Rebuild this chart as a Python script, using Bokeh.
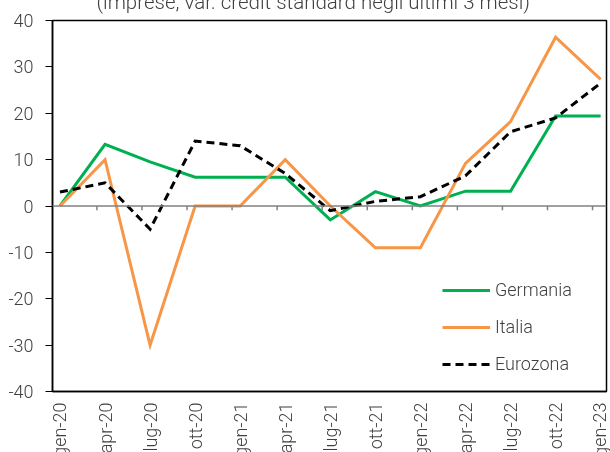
from bokeh.plotting import figure
from bokeh.models import FixedTicker, Range1d, Span, Legend, LegendItem, Title
from bokeh.embed import file_html
from bokeh.resources import INLINE

periods = ["gen-20", "apr-20", "lug-20", "ott-20", "gen-21", "apr-21", "lug-21",
           "ott-21", "gen-22", "apr-22", "lug-22", "ott-22", "gen-23"]
germania = [0, 13.3, 9.5, 6.2, 6.2, 6.2, -3.0, 3.1, 0, 3.2, 3.2, 19.4, 19.4]
italia = [0, 10, -30, 0, 0, 10, 0, -9, -9, 9.2, 18.2, 36.4, 27.3]
eurozona = [3, 5, -5, 14, 13, 7, -1, 1, 2, 6.5, 16, 19, 26.5]
y_ticks = [-40, -30, -20, -10, 0, 10, 20, 30, 40]
title_text = "(imprese, var. credit standard negli ultimi 3 mesi)"

FONT = "'Roboto Light', Roboto"
TXT = "#404040"
FS = "18px"
x = list(range(len(periods)))

TOP = -20          # canvas top relative to the window (title runs off the top)
BT, BB = 20 - TOP, 69
H = (391 - TOP) + BB
p = figure(width=610, height=H, output_backend="svg", toolbar_location=None,
           x_range=Range1d(-0.166, 12.13), y_range=Range1d(-40, 40),
           min_border_left=52, min_border_right=4, min_border_top=BT,
           min_border_bottom=BB)
p.styles = {"position": "fixed", "top": f"{TOP}px", "left": "0px"}
p.grid.visible = False
p.outline_line_color = "black"
p.outline_line_width = 1.5
p.background_fill_color = "white"
p.border_fill_color = "white"

# y axis
ya = p.yaxis[0]
ya.ticker = FixedTicker(ticks=y_ticks)
ya.major_label_overrides = {t: str(t) for t in y_ticks}
ya.axis_line_color = "black"
ya.axis_line_width = 1.5
ya.major_tick_line_color = "black"
ya.major_tick_out = 7
ya.major_tick_in = 0
ya.minor_tick_line_color = None
ya.major_label_text_font = FONT
ya.major_label_text_font_size = FS
ya.major_label_text_color = TXT
ya.major_label_standoff = 12

# x axis
xa = p.xaxis[0]
xa.ticker = FixedTicker(ticks=x)
xa.major_label_overrides = {i: s for i, s in enumerate(periods)}
xa.major_label_orientation = 1.5708
xa.axis_line_color = "black"
xa.axis_line_width = 1.5
xa.major_tick_line_color = None
xa.minor_tick_line_color = None
xa.major_label_text_font = FONT
xa.major_label_text_font_size = FS
xa.major_label_text_color = TXT
xa.major_label_standoff = 5

# zero line with small ticks
p.add_layout(Span(location=0, dimension="width", line_color="#808080", line_width=1.5))
tick_x = [i - 0.18 for i in x[1:]]
p.segment(x0=tick_x, x1=tick_x, y0=[0] * len(tick_x), y1=[-0.9] * len(tick_x),
          line_color="#808080", line_width=1.5)

r_ger = p.line(x, germania, line_color="#00B050", line_width=3, line_join="miter")
r_ita = p.line(x, italia, line_color="#F79646", line_width=3, line_join="miter")
r_eur = p.line(x, eurozona, line_color="black", line_width=3, line_dash="8 5",
               line_join="miter")

legend = Legend(items=[LegendItem(label="Germania", renderers=[r_ger]),
                       LegendItem(label="Italia", renderers=[r_ita]),
                       LegendItem(label="Eurozona", renderers=[r_eur])],
                location=(390, 17), orientation="vertical",
                border_line_color=None, background_fill_alpha=0,
                padding=0, margin=0, spacing=16, glyph_width=48, glyph_height=20,
                label_height=20, label_standoff=5,
                label_text_font=FONT, label_text_font_size=FS,
                label_text_color=TXT)
p.add_layout(legend, "center")

p.add_layout(Title(text=title_text, align="left", offset=44, standoff=14,
                   vertical_align="bottom", text_font=FONT, text_font_size="20.5px",
                   text_font_style="normal", text_color=TXT), "above")

open("out.html", "w").write(file_html(p, INLINE))
